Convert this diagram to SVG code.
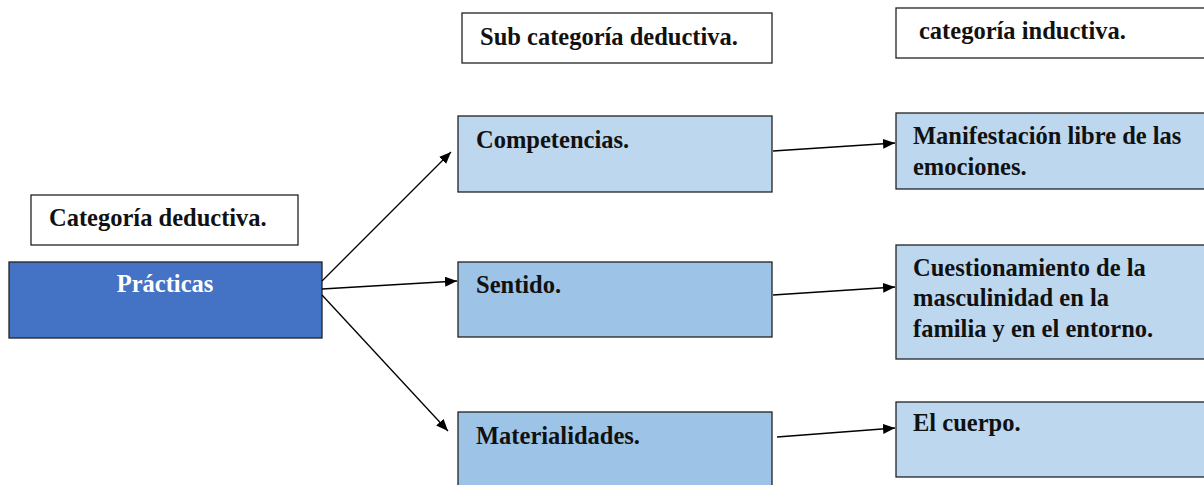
<svg xmlns="http://www.w3.org/2000/svg" width="1204" height="485" viewBox="0 0 1204 485">
<defs>
<marker id="ah" markerWidth="12" markerHeight="10" refX="12" refY="5" orient="auto" markerUnits="userSpaceOnUse">
<path d="M0,0 L12,5 L0,10 z" fill="#000"/>
</marker>
<style>
.box{stroke:#222;stroke-width:1.3}
.w{fill:#fff}
.l{fill:#BDD7EE}
.m{fill:#9DC3E6}
.d{fill:#4472C4}
text{font-family:"Liberation Serif","Times New Roman",serif;font-weight:bold;font-size:24.5px;fill:#111}
.wt{fill:#fff}
.c{stroke:#000;stroke-width:1.3;fill:none;marker-end:url(#ah)}
</style>
</defs>
<rect width="1204" height="485" fill="#fff"/>
<g id="sub-header"><rect class="box w" x="462" y="13" width="310" height="50"/><text x="480" y="45">Sub categoría deductiva.</text></g>
<g id="ind-header"><rect class="box w" x="896" y="8" width="320" height="50"/><text x="919" y="39">categoría inductiva.</text></g>
<g id="ded-header"><rect class="box w" x="31" y="195" width="267" height="50"/><text x="49" y="226">Categoría deductiva.</text></g>
<g id="practicas"><rect class="box d" x="9" y="262" width="313" height="76"/><text class="wt" x="165" y="292" text-anchor="middle">Prácticas</text></g>
<g id="competencias"><rect class="box l" x="458" y="116" width="314" height="76"/><text x="476" y="148">Competencias.</text></g>
<g id="sentido"><rect class="box m" x="458" y="262" width="314" height="75"/><text x="476" y="293">Sentido.</text></g>
<g id="materialidades"><rect class="box m" x="458" y="412" width="314" height="90"/><text x="476" y="444">Materialidades.</text></g>
<g id="manifestacion"><rect class="box l" x="896" y="113" width="320" height="76"/><text x="913" y="144">Manifestación libre de las</text><text x="913" y="175">emociones.</text></g>
<g id="cuestionamiento"><rect class="box l" x="896" y="245" width="320" height="114"/><text x="913" y="276">Cuestionamiento de la</text><text x="913" y="306">masculinidad en la</text><text x="913" y="337">familia y en el entorno.</text></g>
<g id="cuerpo"><rect class="box l" x="896" y="402" width="320" height="75"/><text x="913" y="431">El cuerpo.</text></g>
<g id="connectors">
<line class="c" x1="322" y1="281" x2="451" y2="152"/>
<line class="c" x1="322" y1="289" x2="457" y2="281"/>
<line class="c" x1="322" y1="295" x2="448" y2="431"/>
<line class="c" x1="773" y1="151" x2="895" y2="143"/>
<line class="c" x1="773" y1="295" x2="895" y2="287"/>
<line class="c" x1="777" y1="437" x2="895" y2="428"/>
</g>
</svg>
